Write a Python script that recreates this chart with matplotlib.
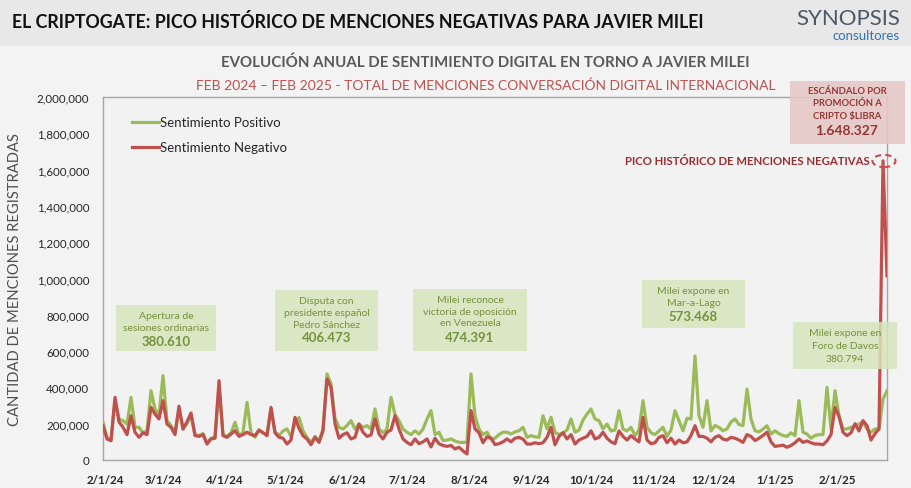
import matplotlib
matplotlib.use("Agg")
import matplotlib.pyplot as plt
from matplotlib.patches import Rectangle, Circle
import pandas as pd
import numpy as np

# menciones cada 2 dias (miles), desde 31/1/2024
positivo = [208, 125, 110, 330, 226, 217, 198, 345, 180, 180, 150, 160, 382, 281, 244, 465,
            217, 190, 150, 280, 175, 200, 245, 140, 135, 145, 95, 120, 125, 400, 140, 130,
            150, 208, 135, 150, 318, 150, 125, 165, 150, 140, 280, 155, 135, 160, 171, 130,
            200, 235, 160, 125, 95, 130, 105, 170, 474, 420, 230, 180, 171, 190, 217, 170,
            198, 180, 189, 170, 281, 171, 150, 171, 345, 250, 217, 170, 153, 140, 161, 143,
            170, 226, 272, 140, 153, 107, 110, 116, 105, 97, 97, 97, 474, 244, 170, 140,
            153, 116, 120, 140, 153, 153, 143, 155, 161, 180, 125, 134, 128, 125, 244, 171,
            235, 153, 140, 150, 165, 226, 153, 165, 220, 253, 281, 226, 217, 171, 198, 160,
            165, 272, 170, 160, 180, 134, 165, 327, 180, 150, 140, 160, 180, 130, 165, 272,
            217, 161, 230, 226, 573.468, 244, 180, 327, 160, 190, 180, 161, 171, 210, 226, 195,
            190, 391, 226, 161, 155, 170, 189, 143, 161, 145, 135, 130, 150, 134, 327, 153,
            143, 120, 135, 140, 140, 400, 171, 382, 244, 171, 171, 180, 189, 198, 210, 170,
            153, 171, 171, 336, 380]
negativo = [189, 116, 106, 345, 210, 180, 140, 244, 153, 125, 150, 140, 290, 253, 226, 327,
            198, 180, 140, 296, 170, 210, 259, 135, 130, 140, 88, 116, 120, 437, 134, 125,
            143, 161, 130, 140, 153, 140, 134, 165, 150, 134, 290, 150, 125, 120, 88, 110,
            235, 175, 134, 116, 84, 125, 97, 160, 446, 400, 200, 120, 140, 150, 116, 125,
            198, 153, 130, 138, 226, 143, 116, 153, 165, 244, 171, 116, 97, 84, 116, 90,
            100, 116, 72, 120, 90, 80, 75, 80, 61, 70, 50, 33, 272, 171, 150, 95,
            128, 120, 85, 90, 100, 116, 100, 120, 125, 115, 88, 88, 95, 90, 95, 125,
            180, 84, 130, 150, 116, 140, 88, 110, 120, 130, 161, 116, 125, 153, 120, 100,
            90, 160, 130, 110, 134, 116, 100, 235, 110, 90, 95, 125, 134, 95, 120, 88,
            110, 95, 100, 135, 189, 130, 130, 120, 100, 125, 134, 115, 110, 125, 120, 110,
            97, 140, 130, 107, 120, 135, 153, 100, 75, 78, 82, 70, 80, 95, 116, 97,
            105, 95, 88, 88, 84, 105, 140, 290, 240, 153, 134, 150, 200, 160, 217, 189,
            110, 145, 171, 1648.327, 1015]

meses = pd.date_range("2024-02-01", "2025-02-01", freq="MS")
yticks = np.arange(0, 2000001, 200000)

cajas = [
    # (x0, y0, x1, y1 en px, lineas, cifra)
    ((116, 306, 216, 352), ["Apertura de", "sesiones ordinarias"], "380.610"),
    ((275, 291, 378, 352), ["Disputa con", "presidente español", "Pedro Sánchez"], "406.473"),
    ((413, 290, 527, 352), ["Milei reconoce", "victoria de oposición", "en Venezuela"], "474.391"),
    ((642, 281, 745, 329), ["Milei expone en", "Mar-a-Lago"], "573.468"),
]

W, H = 912, 489
fechas = pd.date_range("2024-01-31", periods=len(negativo), freq="2D")
pos = np.array(positivo) * 1000
neg = np.array(negativo) * 1000

plt.rcParams["font.family"] = ["Lato", "DejaVu Sans"]

fig = plt.figure(figsize=(W / 100, H / 100), dpi=100, facecolor="#f3f3f3")

def fx(px):
    return px / W

def fy(py):
    return 1 - py / H

# banda de titulo
fig.patches.append(Rectangle((0, fy(47)), 1, 47 / H, transform=fig.transFigure,
                             facecolor="#e8e8e8", edgecolor="none", zorder=0))
fig.text(fx(12), fy(22), "EL CRIPTOGATE: PICO HISTÓRICO DE MENCIONES NEGATIVAS PARA JAVIER MILEI",
         fontsize=12.8, fontweight="bold", color="#111111", va="center", ha="left")
fig.text(fx(848), fy(19), "SYNOPSIS", fontsize=16, color="#4d5866",
         va="center", ha="center")
fig.text(fx(900), fy(36), "consultores", fontsize=9.5, color="#2e75b6", va="center", ha="right")

fig.text(fx(485), fy(63), "EVOLUCIÓN ANUAL DE SENTIMIENTO DIGITAL EN TORNO A JAVIER MILEI",
         fontsize=10.8, fontweight="bold", color="#595959", va="center", ha="center")
fig.text(fx(486), fy(86), "FEB 2024 – FEB 2025 - TOTAL DE MENCIONES CONVERSACIÓN DIGITAL INTERNACIONAL",
         fontsize=10, color="#c0504d", va="center", ha="center")

ax = fig.add_axes([fx(103), fy(461), fx(887 - 103), (461 - 98) / H])
ax.set_facecolor("#f2f2f2")
ax.plot(fechas, pos, color="#9bbb59", lw=2.3, label="Sentimiento Positivo", zorder=3)
ax.plot(fechas, neg, color="#c0504d", lw=2.3, label="Sentimiento Negativo", zorder=4)

ax.set_xlim(pd.Timestamp("2024-01-31"), pd.Timestamp("2025-02-26"))
ax.set_ylim(0, 2000000)
ax.set_yticks(yticks)
ax.set_yticklabels([f"{v:,.0f}" for v in yticks], fontsize=8.3, color="#262626")
ax.set_xticks(meses)
ax.set_xticklabels([f"{d.month}/{d.day}/{d.year % 100}" for d in meses],
                   fontsize=8.3, fontweight="bold", color="#262626")
ax.tick_params(axis="y", length=0, pad=10)
ax.tick_params(axis="x", length=0, pad=10)
for s in ax.spines.values():
    s.set_color("#a6a6a6")
    s.set_linewidth(1)
ax.set_ylabel("CANTIDAD DE MENCIONES REGISTRADAS", fontsize=10.6, color="#4f4f4f")
ax.yaxis.set_label_coords(-(103 - 22) / 784, 0.5)

leg = ax.legend(loc="upper left", bbox_to_anchor=(0.022, 0.98), frameon=False,
                fontsize=9.5, handlelength=2.0, handletextpad=0.15, labelspacing=1.0)
for t in leg.get_texts():
    t.set_color("#262626")

verde_txt = "#76923c"
for (x0, y0, x1, y1), lineas, cifra in cajas:
    fig.patches.append(Rectangle((fx(x0), fy(y1)), fx(x1 - x0), (y1 - y0) / H,
                                 transform=fig.transFigure, facecolor="#d7e4bd",
                                 edgecolor="none", alpha=0.85, zorder=5))
    n = len(lineas)
    cx = (x0 + x1) / 2
    paso = 11.5
    top = y0 + 11
    for k, l in enumerate(lineas):
        fig.text(fx(cx), fy(top + k * paso), l, fontsize=7.5, color=verde_txt,
                 ha="center", va="center", zorder=6)
    fig.text(fx(cx), fy(top + n * paso + 2), cifra, fontsize=9.5, fontweight="bold",
             color=verde_txt, ha="center", va="center", zorder=6)

# caja Davos
fig.patches.append(Rectangle((fx(793), fy(370)), fx(104), 47 / H, transform=fig.transFigure,
                             facecolor="#d7e4bd", edgecolor="none", alpha=0.85, zorder=5))
for k, l in enumerate(["Milei expone en", "Foro de Davos", "380.794"]):
    fig.text(fx(845), fy(334 + k * 12.5), l, fontsize=7.5, color=verde_txt,
             ha="center", va="center", zorder=6)

# caja escandalo
fig.patches.append(Rectangle((fx(790), fy(145)), fx(115), 63 / H, transform=fig.transFigure,
                             facecolor="#e6c8c8", edgecolor="none", alpha=0.9, zorder=5))
rojo_txt = "#943634"
for k, l in enumerate(["ESCÁNDALO POR", "PROMOCIÓN A", "CRIPTO $LIBRA"]):
    fig.text(fx(847), fy(92 + k * 12), l, fontsize=6.8, fontweight="bold", color=rojo_txt,
             ha="center", va="center", zorder=6)
fig.text(fx(847), fy(131), "1.648.327", fontsize=10, fontweight="bold", color=rojo_txt,
         ha="center", va="center", zorder=6)

fig.text(fx(870), fy(162), "PICO HISTÓRICO DE MENCIONES NEGATIVAS", fontsize=8.2,
         fontweight="bold", color="#9b2d30", ha="right", va="center", zorder=6)
fig.patches.append(Circle((fx(884), fy(162)), 11.5 / W, transform=fig.transFigure,
                          facecolor="none", edgecolor="#c0504d", lw=1.5, ls=(0, (3, 2)),
                          zorder=7))

fig.savefig("out.png", dpi=100, facecolor=fig.get_facecolor())
